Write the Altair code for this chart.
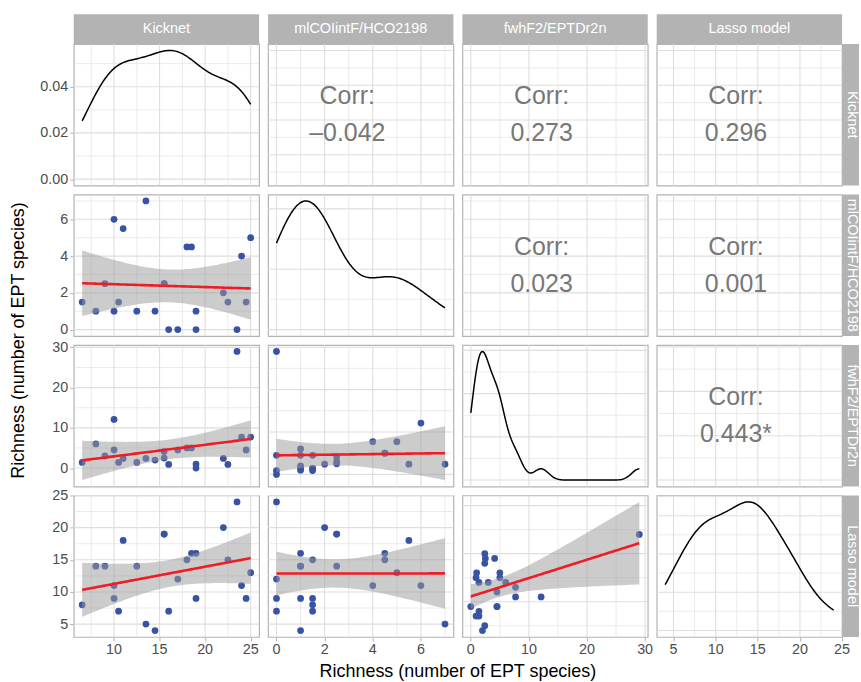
import altair as alt
import numpy as np
import pandas as pd

# ---------------- data ----------------
var_names = ["Kicknet", "mlCOIintF/HCO2198", "fwhF2/EPTDr2n", "Lasso model"]
kicknet = [6.5, 8, 9, 10, 10, 10.5, 11, 12.5, 13.5, 14.5, 15.5, 15.5, 16, 17, 18, 18.5, 19, 19, 22, 22.5, 23.5, 24, 24.5, 25]
mlcoi = [1.5, 1, 2.5, 6, 1, 1.5, 5.5, 1, 7, 1, 2.5, 2.5, 0, 0, 4.5, 4.5, 1, 0, 2, 1.5, 0, 4, 1.5, 5]
fwh = [1.4, 6, 3, 12.1, 4.5, 1.4, 2.4, 1.4, 2.4, 2, 2.5, 4.1, 0.9, 4.5, 5, 5, 1, 0, 2.4, 0.9, 29, 7.7, 4.5, 7.7]
lasso = [8, 14, 14, 11, 9, 7, 18, 14, 5, 4, 19, 19, 7, 12, 15, 16, 16, 9, 20, 15, 24, 11, 9, 13]
corr_pairs = [(0, 1), (0, 2), (0, 3), (1, 2), (1, 3), (2, 3)]
corr_values = ["–0.042", "0.273", "0.296", "0.023", "0.001", "0.443*"]
axis_title = "Richness (number of EPT species)"

variables = [kicknet, mlcoi, fwh, lasso]
corr_text = {p: "Corr:\n" + v for p, v in zip(corr_pairs, corr_values)}

FONT = "Liberation Sans"
W, H = 186, 142
SP = 9
STRIP_W = 17
T975 = 2.0739  # t quantile for 95% CI, df = n - 2 = 22
GRID = "#dedede"
STRIP = "#b3b3b3"
LABEL = "#4d4d4d"


def expand(lo, hi, mult=0.05):
    r = hi - lo
    eps = 1e-5 * r
    return (round(float(lo - mult * r - eps), 9), round(float(hi + mult * r + eps), 9))


def breaks(lo, hi):
    for q in (1, 5, 2, 2.5):
        for k in range(-4, 4):
            step = q * 10.0 ** k
            start = np.ceil(lo / step - 1e-9)
            end = np.floor(hi / step + 1e-9)
            n = int(end - start + 1)
            if 3 <= n <= 5:
                major = np.round(np.arange(start, end + 1) * step, 10)
                ext = np.concatenate([[major[0] - step], major, [major[-1] + step]])
                minor = (ext[:-1] + ext[1:]) / 2
                minor = minor[(minor > lo) & (minor < hi)]
                return [float(v) for v in major], [float(v) for v in minor]
    return [], []


def nrd0(v):
    v = np.asarray(v, float)
    sd = v.std(ddof=1)
    q75, q25 = np.percentile(v, [75, 25])
    return float(0.9 * min(sd, (q75 - q25) / 1.34) * len(v) ** -0.2)


def kde_max(v, bw):
    v = np.asarray(v, float)
    g = np.linspace(v.min(), v.max(), 400)
    d = np.exp(-0.5 * ((g[:, None] - v[None, :]) / bw) ** 2).sum(1) / (len(v) * bw * np.sqrt(2 * np.pi))
    return float(d.max())


def lm_band(x, y, steps=80):
    x = np.asarray(x, float)
    y = np.asarray(y, float)
    n = len(x)
    b1, b0 = np.polyfit(x, y, 1)
    resid = y - (b0 + b1 * x)
    s = np.sqrt((resid ** 2).sum() / (n - 2))
    sxx = ((x - x.mean()) ** 2).sum()
    g = np.linspace(x.min(), x.max(), steps)
    fit = b0 + b1 * g
    se = s * np.sqrt(1 / n + (g - x.mean()) ** 2 / sxx)
    return pd.DataFrame({"x": g, "fit": fit, "lo": fit - T975 * se, "hi": fit + T975 * se})


def sc(dom):
    return alt.Scale(domain=list(dom), nice=False, zero=False)


def make_axis(values, fmt, labels=True):
    return alt.Axis(values=values, format=fmt, grid=False, domain=False, title=None,
                    labels=labels,
                    labelFont=FONT, labelFontSize=14.4, labelColor=LABEL,
                    tickColor=STRIP, tickSize=4, labelPadding=2, tickCount=20,
                    labelFlush=False, labelOverlap=False, labelBound=False)


def panel(i, j):
    xv = variables[j]
    yv = variables[i]
    xd = expand(min(xv), max(xv))
    band = None
    if i == j:
        bw = nrd0(xv)
        yd = expand(0, kde_max(xv, bw))
    elif i > j:
        band = lm_band(xv, yv)
        yd = expand(min(min(yv), band["lo"].min()), max(max(yv), band["hi"].max()))
    else:
        yd = expand(min(yv), max(yv))

    xM, xm = breaks(*xd)
    yM, ym = breaks(*yd)
    # bottom-row x axes keep their ticks; their labels are drawn as a text layer below
    xax = make_axis(xM, "d", labels=False) if i == 3 else None
    yax = make_axis(yM, ".2f" if (i == j) else "d") if j == 0 else None

    def X(field):
        return alt.X(field, scale=sc(xd), axis=xax)

    def Y(field):
        return alt.Y(field, scale=sc(yd), axis=yax)

    layers = []
    for vals_, w in ((xm, 0.6), (xM, 1.1)):
        layers.append(alt.Chart(pd.DataFrame({"g": vals_})).mark_rule(color=GRID, strokeWidth=w)
                      .encode(x=X("g:Q")))
    for vals_, w in ((ym, 0.6), (yM, 1.1)):
        layers.append(alt.Chart(pd.DataFrame({"g": vals_})).mark_rule(color=GRID, strokeWidth=w)
                      .encode(y=Y("g:Q")))

    if i == j:
        layers.append(
            alt.Chart(pd.DataFrame({"v": xv}))
            .transform_density("v", as_=["value", "density"], bandwidth=bw,
                               extent=[float(min(xv)), float(max(xv))], steps=150)
            .mark_line(color="black", strokeWidth=1.5)
            .encode(x=X("value:Q"), y=Y("density:Q"))
        )
    elif i > j:
        layers.append(
            alt.Chart(pd.DataFrame({"x": xv, "y": yv}))
            .mark_circle(size=46, color="#3953a4", opacity=1)
            .encode(x=X("x:Q"), y=Y("y:Q"))
        )
        layers.append(
            alt.Chart(band).mark_area(color="#999999", opacity=0.5)
            .encode(x=X("x:Q"), y=Y("lo:Q"), y2="hi:Q")
        )
        layers.append(
            alt.Chart(band).mark_line(color="#ee1c24", strokeWidth=2.6)
            .encode(x=X("x:Q"), y=Y("fit:Q"))
        )
    else:
        layers.append(
            alt.Chart(pd.DataFrame({"t": [corr_text[(i, j)]]}))
            .mark_text(font=FONT, fontSize=25, color="#777777", lineBreak="\n", lineHeight=37,
                       align="center", baseline="middle")
            .encode(x=alt.value(W / 2 - 13.5), y=alt.value(H / 2 - 18.5), text="t:N")
        )

    if i == 3:
        # x tick labels of the bottom row, positioned through the panel's x scale
        layers.append(
            alt.Chart(pd.DataFrame({"v": xM}))
            .mark_text(font=FONT, fontSize=14.4, color=LABEL, align="center", baseline="top")
            .encode(x=X("v:Q"), y=alt.value(H + 6), text=alt.Text("v:Q", format="d"))
        )

    if i == 0:
        sdf = pd.DataFrame({"t": [var_names[j]]})
        layers.append(alt.Chart(sdf).mark_rect(color=STRIP)
                      .encode(x=alt.value(0), x2=alt.value(W), y=alt.value(-30), y2=alt.value(0)))
        layers.append(alt.Chart(sdf).mark_text(font=FONT, fontSize=14.5, color="white",
                                               align="center", baseline="middle")
                      .encode(x=alt.value(W / 2), y=alt.value(-15), text="t:N"))
    if j == 3:
        sdf = pd.DataFrame({"t": [var_names[i]]})
        layers.append(alt.Chart(sdf).mark_rect(color=STRIP)
                      .encode(x=alt.value(W), x2=alt.value(W + STRIP_W), y=alt.value(0), y2=alt.value(H)))
        layers.append(alt.Chart(sdf).mark_text(font=FONT, fontSize=14.5, color="white", angle=90,
                                               align="center", baseline="middle")
                      .encode(x=alt.value(W + 10), y=alt.value(H / 2), text="t:N"))
    if (i, j) == (1, 0):
        layers.append(alt.Chart(pd.DataFrame({"t": [axis_title]}))
                      .mark_text(font=FONT, fontSize=18, color="black", angle=270,
                                 align="center", baseline="middle")
                      .encode(x=alt.value(-55), y=alt.value(H + SP / 2), text="t:N"))
    if (i, j) == (3, 1):
        layers.append(alt.Chart(pd.DataFrame({"t": [axis_title]}))
                      .mark_text(font=FONT, fontSize=18, color="black",
                                 align="center", baseline="middle")
                      .encode(x=alt.value(W + SP / 2), y=alt.value(177), text="t:N"))

    return alt.layer(*layers).properties(width=W, height=H)


panels = [panel(i, j) for i in range(4) for j in range(4)]

chart = (
    alt.concat(*panels, columns=4, spacing=SP, bounds="flush")
    .properties(padding={"left": 9, "top": 12, "right": 0, "bottom": 0})
    .configure_view(stroke=STRIP, strokeWidth=1.2)
)

chart.save("out.html", embed_options={"renderer": "svg", "actions": False})
